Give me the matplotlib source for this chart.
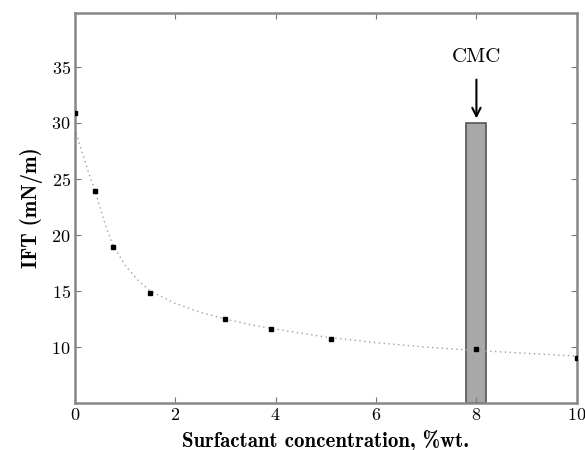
import matplotlib
matplotlib.use('Agg')
import matplotlib.pyplot as plt
from matplotlib.patches import Rectangle

# measured IFT vs surfactant concentration
conc = [0.0, 0.4, 0.75, 1.5, 3.0, 3.9, 5.1, 8.0, 10.0]
ift = [30.9, 23.9, 18.9, 14.8, 12.5, 11.6, 10.7, 9.8, 9.0]

# fitted trend line
fit_conc = [0.0, 0.1, 0.2, 0.3, 0.4, 0.5, 0.6, 0.75, 1.0, 1.25, 1.5, 2.0, 2.5,
            3.0, 3.5, 4.0, 5.0, 6.0, 7.0, 8.0, 9.0, 10.0]
fit_ift = [29.5, 28.0, 26.6, 25.2, 24.0, 22.5, 21.0, 19.2, 17.3, 16.0, 15.0, 13.9,
           13.1, 12.5, 12.0, 11.6, 10.9, 10.4, 10.0, 9.7, 9.45, 9.2]

cmc_low, cmc_high = 7.8, 8.2
cmc_top = 30.0

plt.rcParams['font.family'] = ['cmb10', 'DejaVu Serif']
plt.rcParams['axes.formatter.use_mathtext'] = True

fig = plt.figure(figsize=(5.85, 4.5), dpi=100)
ax = fig.add_axes([0.128, 0.104, 0.858, 0.867])

ax.add_patch(Rectangle((cmc_low, 5), cmc_high - cmc_low, cmc_top - 5,
                       facecolor='#a8a8a8', edgecolor='#555555', lw=1.2, zorder=1))
ax.plot(fit_conc, fit_ift, linestyle=(0, (1, 2.5)), color='#a0a0a0', lw=1.0, zorder=2)
ax.plot(conc, ift, 's', color='black', markersize=2.5, zorder=3)

ax.annotate('CMC', xy=(8.0, 30.4), xytext=(8.0, 35.9), ha='center', va='center',
            fontsize=15, fontfamily='cmr10',
            arrowprops=dict(arrowstyle='->', color='black', lw=1.5,
                            shrinkA=8, shrinkB=0))

ax.set_xlim(0, 10)
ax.set_ylim(5, 39.8)
ax.set_xticks([0, 2, 4, 6, 8, 10])
ax.set_yticks([10, 15, 20, 25, 30, 35])
ax.tick_params(direction='in', length=4, width=0.8, color='#777777', labelsize=13,
               top=True, right=True, pad=3)
for lab in ax.get_xticklabels() + ax.get_yticklabels():
    lab.set_fontfamily('cmr10')
for s in ax.spines.values():
    s.set_color('#888888')
    s.set_linewidth(1.8)

ax.set_xlabel('Surfactant concentration, %wt.', fontsize=15, labelpad=5)
ax.set_ylabel('IFT (mN/m)', fontsize=15, labelpad=6)

fig.savefig('out.png', dpi=100)
